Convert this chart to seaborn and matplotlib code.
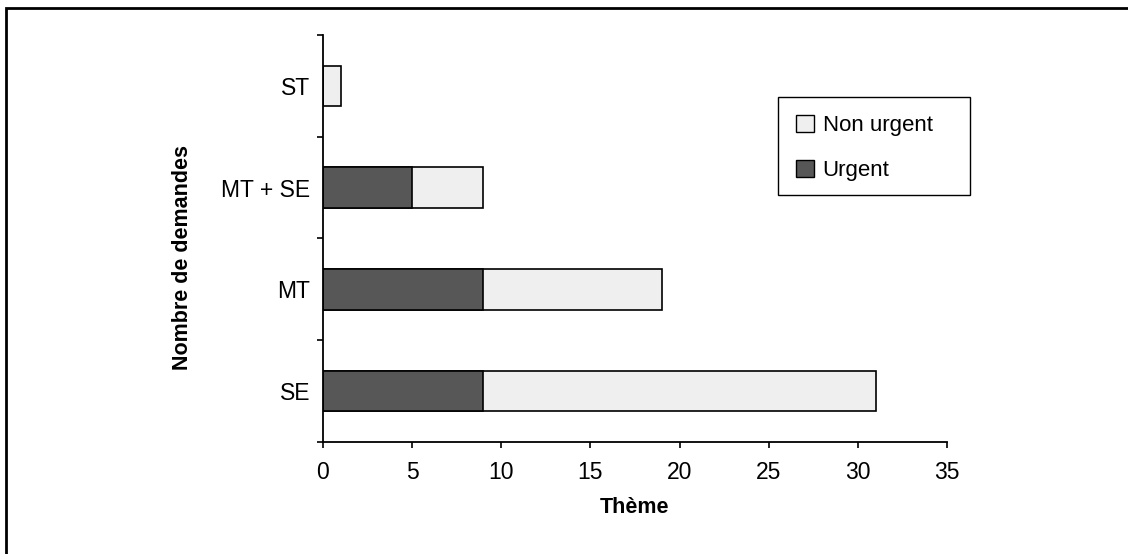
import matplotlib
matplotlib.use("Agg")
import matplotlib.pyplot as plt
import seaborn as sns
import pandas as pd
from matplotlib.patches import Patch, Rectangle

# Demand counts per theme
themes = ["ST", "MT + SE", "MT", "SE"]
urgent = [0, 5, 9, 9]
non_urgent = [1, 4, 10, 22]
x_ticks = [0, 5, 10, 15, 20, 25, 30, 35]

totals = [u + n for u, n in zip(urgent, non_urgent)]
df = pd.DataFrame({"theme": themes, "urgent": urgent, "total": totals})

sns.set_theme(style="white")
plt.rcParams["font.family"] = ["Liberation Sans", "DejaVu Sans"]
for key in ["text.color", "axes.labelcolor", "xtick.color", "ytick.color"]:
    plt.rcParams[key] = "black"

col_urgent = "#575757"
col_non = "#efefef"

fig = plt.figure(figsize=(11.28, 5.54), dpi=100)
ax = fig.add_axes([0.2863, 0.2022, 0.5532, 0.7346])

# stacked bars: full total in light grey, urgent share drawn over it
sns.barplot(data=df, y="theme", x="total", order=themes, orient="h",
            color=col_non, edgecolor="black", linewidth=1.2, width=0.4,
            saturation=1, ax=ax)
sns.barplot(data=df, y="theme", x="urgent", order=themes, orient="h",
            color=col_urgent, edgecolor="black", linewidth=1.2, width=0.4,
            saturation=1, ax=ax)

ax.set_xlim(0, 35)
ax.set_ylim(3.5, -0.5)
ax.set_xticks(x_ticks)
ax.set_xticklabels([str(t) for t in x_ticks], fontsize=16.5)

# category labels at band centres, tick marks at band boundaries
ax.set_yticks([-0.5, 0.5, 1.5, 2.5, 3.5])
ax.set_yticklabels([])
ax.set_yticks(range(len(themes)), minor=True)
ax.set_yticklabels(themes, minor=True, fontsize=16.5)
ax.tick_params(axis="y", which="minor", length=0, pad=9)
ax.tick_params(axis="y", which="major", direction="out", length=4, width=1.2, color="black", left=True)
ax.tick_params(axis="x", direction="out", length=4, width=1.2, color="black", bottom=True, pad=10)

for side in ["top", "right"]:
    ax.spines[side].set_visible(False)
for side in ["left", "bottom"]:
    ax.spines[side].set_color("black")
    ax.spines[side].set_linewidth(1.3)

ax.set_xlabel("Thème", fontsize=15.5, fontweight="bold", labelpad=9)
ax.set_ylabel("Nombre de demandes", fontsize=15.5, fontweight="bold")
ax.yaxis.set_label_coords(-0.208, 0.4545)

# legend box
ax.add_patch(Rectangle((0.729, 0.607), 0.308, 0.2407, transform=ax.transAxes,
                       fill=True, facecolor="white", edgecolor="black",
                       linewidth=1.0, clip_on=False, zorder=4))
handles = [Patch(facecolor=col_non, edgecolor="black", linewidth=1),
           Patch(facecolor=col_urgent, edgecolor="black", linewidth=1)]
leg = ax.legend(handles, ["Non urgent", "Urgent"], loc="upper left",
                bbox_to_anchor=(0.758, 0.803), fontsize=16, frameon=False,
                handlelength=0.8, handleheight=0.8, labelspacing=1.05,
                borderpad=0, handletextpad=0.4, borderaxespad=0)
leg.set_zorder(5)

# outer frame of the figure
fig.patches.append(Rectangle((6 / 1128, -0.1), 1.2, 1 - 8 / 554 + 0.1,
                             transform=fig.transFigure, fill=False,
                             edgecolor="black", linewidth=2.0))

fig.savefig("out.png", dpi=100)
